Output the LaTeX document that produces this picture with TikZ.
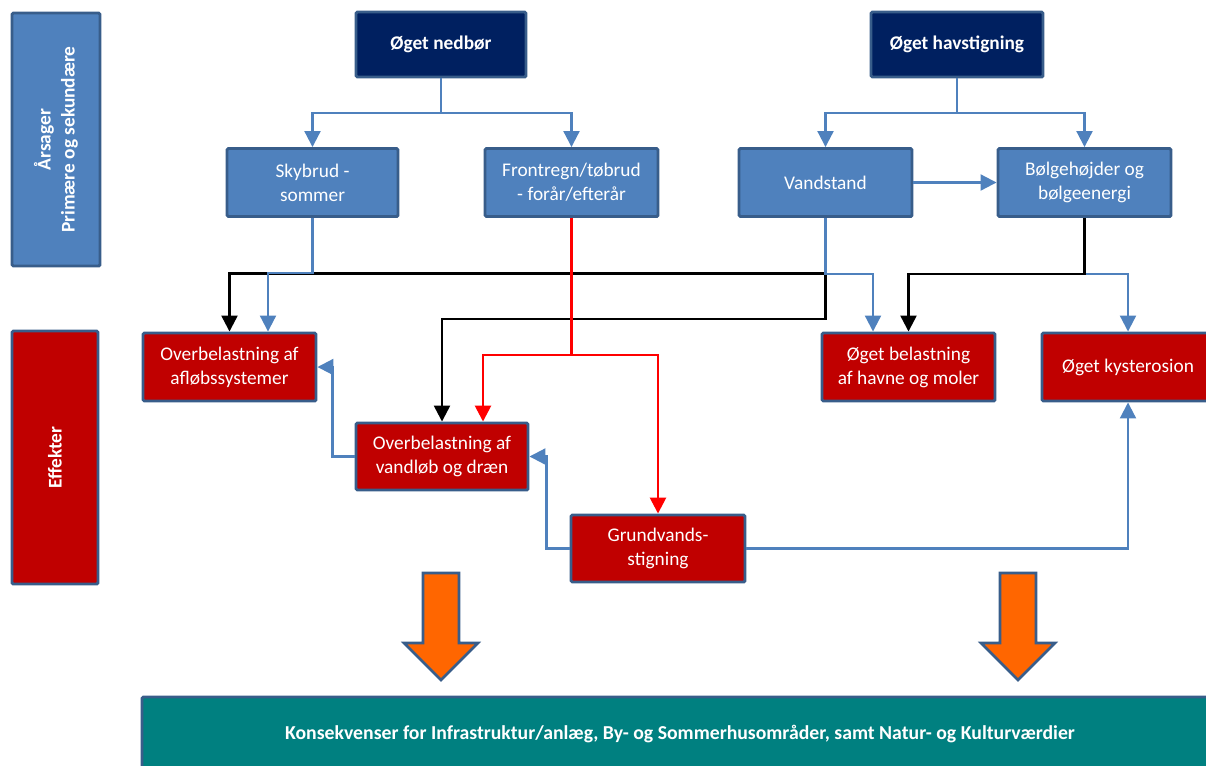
\documentclass[tikz,border=0pt]{standalone}
\usepackage{fontspec}
\setmainfont{Carlito}
\usetikzlibrary{arrows.meta,calc}
\definecolor{bfill}{HTML}{4F81BD}
\definecolor{bord}{HTML}{385D8A}
\definecolor{navy}{HTML}{002060}
\definecolor{rfill}{HTML}{C00000}
\definecolor{tealc}{HTML}{008080}
\definecolor{orng}{HTML}{FF6600}
\definecolor{lblue}{HTML}{4F81BD}
\definecolor{redl}{HTML}{FF0000}
\begin{document}
\begin{tikzpicture}[x=0.75pt,y=-0.75pt,
  box/.style={draw=bord, line width=2.2pt, rounded corners=1pt, text=white, align=center,
    font=\fontsize{14.5}{18}\selectfont, inner sep=0pt},
  bluebox/.style={box, fill=bfill},
  redbox/.style={box, fill=rfill},
  navybox/.style={box, fill=navy, font=\fontsize{14.5}{18}\selectfont\bfseries},
  wh/.style 2 args={minimum width=#1*0.75pt, minimum height=#2*0.75pt},
  tip/.style={-{Triangle[length=12pt,width=12pt]}},
  bl/.style={draw=lblue, line width=1.6pt, tip},
  bk/.style={draw=black, line width=1.8pt, tip},
  rd/.style={draw=redl, line width=2pt, tip},
  blockarrow/.style={fill=orng, draw=bord, line width=2pt, line join=miter}
]
\path[use as bounding box] (0,0) rectangle (1206,765);
\clip (0,0) rectangle (1206,765);

% side bars
\node[bluebox, rotate=90, wh={253}{88}, font=\fontsize{14.5}{18}\selectfont\bfseries] (ars) at (56,139.5) {Årsager\\Primære og sekundære};
\node[redbox, rotate=90, wh={253}{86}, font=\fontsize{14.5}{18}\selectfont\bfseries] (eff) at (55,457.5) {Effekter};

% top causes
\node[navybox, wh={170}{65}] (ned) at (441,44.5) {Øget nedbør};
\node[navybox, wh={172}{65}] (hav) at (957,44.5) {Øget havstigning};

% secondary causes
\node[bluebox, wh={171}{68}] (sky) at (312.5,182.5) {Skybrud -\\sommer};
\node[bluebox, wh={173}{68}] (fro) at (571.5,182.5) {Frontregn/tøbrud\\- forår/efterår};
\node[bluebox, wh={173}{68}] (van) at (825.5,182.5) {Vandstand};
\node[bluebox, wh={173}{68}] (bol) at (1084.5,182.5) {Bølgehøjder og\\bølgeenergi};

% effects
\node[redbox, wh={173}{68}] (afl) at (229.5,367) {Overbelastning af\\afløbssystemer};
\node[redbox, wh={172}{67}] (vl) at (442,456.5) {Overbelastning af\\vandløb og dræn};
\node[redbox, wh={173}{68}] (bel) at (908.5,367) {Øget belastning\\af havne og moler};
\node[redbox, wh={172}{68}] (kys) at (1128,367) {Øget kysterosion};
\node[redbox, wh={174}{67}] (gru) at (658,548.5) {Grundvands-\\stigning};

% consequences
\node[box, fill=tealc, wh={1076}{75}, font=\fontsize{14.8}{17}\selectfont\bfseries] (kon) at (680,734.5)
  {Konsekvenser for Infrastruktur/anlæg, By- og Sommerhusområder, samt Natur- og Kulturværdier};

% block arrows
\draw[blockarrow] (423,573) -- (459,573) -- (459,643) -- (478,643) -- (441,680) -- (404,643) -- (423,643) -- cycle;
\draw[blockarrow] (1000,573) -- (1036,573) -- (1036,643) -- (1055,643) -- (1018,680) -- (981,643) -- (1000,643) -- cycle;

% junction coordinates
\coordinate (nj) at (441,113);
\coordinate (hj) at (957,113);
\coordinate (vk1) at (825.5,273.5);
\coordinate (vk2) at (825.5,319);
\coordinate (vb) at (873,274);
\coordinate (bj) at (1084.5,274);
\coordinate (rj) at (571.5,355);
\coordinate (sk) at (268,273);

% causes -> secondary
\draw[bl] (ned.south) -- (nj) -| (sky.north);
\draw[bl] (nj) -| (fro.north);
\draw[bl] (hav.south) -- (hj) -| (van.north);
\draw[bl] (hj) -| (bol.north);
\draw[bl] (van.east) -- (bol.west);

% black connectors
\draw[bk] (van.south) -- (vk1) -| (afl.north);
\draw[bk] (vk1) -- (vk2) -| (vl.north);

% blue from Vandstand, Skybrud, Bølge
\draw[bl] (van.south) -- (vk1 |- vb) -- (vb) -- (vb |- bel.north);
\draw[bl] (sky.south) |- (sk) -- (sk |- afl.north);
\draw[bl] (bol.south) -- (bj) -| (kys.north);
\draw[bk] (bol.south) -- (bj) -| (bel.north);

% red connectors
\draw[rd] (fro.south) -- (rj) -| ([xshift=41*0.75pt]vl.north);
\draw[rd] (rj) -| (gru.north);

% effect interrelations
\draw[bl] (gru.west) -- ++(-23,0) |- (vl.east);
\draw[bl] (vl.west) -- ++(-22,0) |- (afl.east);
\draw[bl] (gru.east) -| (kys.south);
\end{tikzpicture}
\end{document}
